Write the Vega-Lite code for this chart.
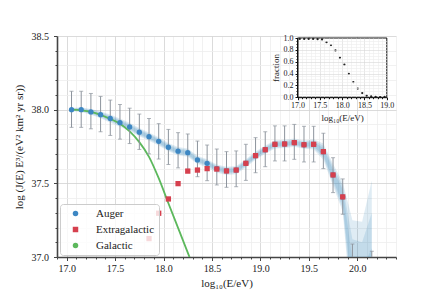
{
  "$schema": "https://vega.github.io/schema/vega-lite/v6.json",
  "width": 339,
  "height": 221,
  "autosize": {"type": "none"},
  "padding": {"left": 57, "top": 36, "right": 44, "bottom": 37},
  "background": "white",
  "config": {
    "view": {"stroke": null},
    "font": "Liberation Serif",
    "axis": {"labelFont": "Liberation Serif", "titleFont": "Liberation Serif", "labelColor": "#222", "titleColor": "#222", "titleFontWeight": "normal", "labelOverlap": false, "labelFlush": false, "labelBound": false}
  },
  "datasets": {
    "auger": [
      {"E": 17.05, "J": 38.000, "lo": 37.880, "hi": 38.125, "series": "Auger"},
      {"E": 17.15, "J": 38.000, "lo": 37.880, "hi": 38.125, "series": "Auger"},
      {"E": 17.25, "J": 37.985, "lo": 37.870, "hi": 38.110, "series": "Auger"},
      {"E": 17.35, "J": 37.966, "lo": 37.850, "hi": 38.090, "series": "Auger"},
      {"E": 17.45, "J": 37.940, "lo": 37.825, "hi": 38.065, "series": "Auger"},
      {"E": 17.55, "J": 37.912, "lo": 37.800, "hi": 38.035, "series": "Auger"},
      {"E": 17.65, "J": 37.883, "lo": 37.770, "hi": 38.010, "series": "Auger"},
      {"E": 17.75, "J": 37.847, "lo": 37.730, "hi": 37.970, "series": "Auger"},
      {"E": 17.85, "J": 37.817, "lo": 37.700, "hi": 37.940, "series": "Auger"},
      {"E": 17.95, "J": 37.785, "lo": 37.665, "hi": 37.905, "series": "Auger"},
      {"E": 18.05, "J": 37.745, "lo": 37.628, "hi": 37.866, "series": "Auger"},
      {"E": 18.15, "J": 37.718, "lo": 37.605, "hi": 37.844, "series": "Auger"},
      {"E": 18.25, "J": 37.708, "lo": 37.595, "hi": 37.835, "series": "Auger"},
      {"E": 18.35, "J": 37.659, "lo": 37.545, "hi": 37.787, "series": "Auger"},
      {"E": 18.45, "J": 37.636, "lo": 37.518, "hi": 37.760, "series": "Auger"},
      {"E": 18.55, "J": 37.600, "lo": 37.489, "hi": 37.733, "series": "Auger"},
      {"E": 18.65, "J": 37.585, "lo": 37.473, "hi": 37.715, "series": "Auger"},
      {"E": 18.75, "J": 37.590, "lo": 37.477, "hi": 37.720, "series": "Auger"},
      {"E": 18.85, "J": 37.636, "lo": 37.520, "hi": 37.765, "series": "Auger"},
      {"E": 18.95, "J": 37.688, "lo": 37.572, "hi": 37.810, "series": "Auger"},
      {"E": 19.05, "J": 37.728, "lo": 37.613, "hi": 37.850, "series": "Auger"},
      {"E": 19.15, "J": 37.765, "lo": 37.652, "hi": 37.890, "series": "Auger"},
      {"E": 19.25, "J": 37.767, "lo": 37.652, "hi": 37.890, "series": "Auger"},
      {"E": 19.35, "J": 37.776, "lo": 37.663, "hi": 37.900, "series": "Auger"},
      {"E": 19.45, "J": 37.762, "lo": 37.645, "hi": 37.887, "series": "Auger"},
      {"E": 19.55, "J": 37.765, "lo": 37.645, "hi": 37.887, "series": "Auger"},
      {"E": 19.65, "J": 37.715, "lo": 37.600, "hi": 37.840, "series": "Auger"},
      {"E": 19.75, "J": 37.557, "lo": 37.437, "hi": 37.674, "series": "Auger"},
      {"E": 19.85, "J": 37.408, "lo": 37.290, "hi": 37.530, "series": "Auger"},
      {"E": 19.95, "J": 36.970, "lo": 36.850, "hi": 37.088, "series": "Auger"},
      {"E": 20.15, "J": 36.920, "lo": 36.800, "hi": 37.039, "series": "Auger"}
    ],
    "extragal": [
      {"E": 17.85, "J": 37.125, "series": "Extragalactic"},
      {"E": 17.95, "J": 37.297, "series": "Extragalactic"},
      {"E": 18.05, "J": 37.394, "series": "Extragalactic"},
      {"E": 18.15, "J": 37.498, "series": "Extragalactic"},
      {"E": 18.25, "J": 37.583, "series": "Extragalactic"},
      {"E": 18.35, "J": 37.590, "series": "Extragalactic"},
      {"E": 18.45, "J": 37.600, "series": "Extragalactic"},
      {"E": 18.55, "J": 37.597, "series": "Extragalactic"},
      {"E": 18.65, "J": 37.584, "series": "Extragalactic"},
      {"E": 18.75, "J": 37.590, "series": "Extragalactic"},
      {"E": 18.85, "J": 37.636, "series": "Extragalactic"},
      {"E": 18.95, "J": 37.688, "series": "Extragalactic"},
      {"E": 19.05, "J": 37.728, "series": "Extragalactic"},
      {"E": 19.15, "J": 37.765, "series": "Extragalactic"},
      {"E": 19.25, "J": 37.767, "series": "Extragalactic"},
      {"E": 19.35, "J": 37.776, "series": "Extragalactic"},
      {"E": 19.45, "J": 37.762, "series": "Extragalactic"},
      {"E": 19.55, "J": 37.765, "series": "Extragalactic"},
      {"E": 19.65, "J": 37.715, "series": "Extragalactic"},
      {"E": 19.75, "J": 37.557, "series": "Extragalactic"},
      {"E": 19.85, "J": 37.408, "series": "Extragalactic"}
    ],
    "galactic": [
      {"E": 17.05, "J": 38.000},
      {"E": 17.15, "J": 37.995},
      {"E": 17.25, "J": 37.985},
      {"E": 17.35, "J": 37.965},
      {"E": 17.45, "J": 37.937},
      {"E": 17.55, "J": 37.905},
      {"E": 17.65, "J": 37.852},
      {"E": 17.75, "J": 37.780},
      {"E": 17.85, "J": 37.680},
      {"E": 17.95, "J": 37.535},
      {"E": 18.05, "J": 37.365},
      {"E": 18.15, "J": 37.198},
      {"E": 18.25, "J": 37.030},
      {"E": 18.35, "J": 36.860}
    ],
    "band": [
      {"E": 17.05, "lo1": 37.996, "hi1": 38.004, "lo2": 37.992, "hi2": 38.008, "lo3": 37.988, "hi3": 38.012},
      {"E": 17.15, "lo1": 37.994, "hi1": 38.006, "lo2": 37.989, "hi2": 38.011, "lo3": 37.984, "hi3": 38.016},
      {"E": 17.25, "lo1": 37.977, "hi1": 37.993, "lo2": 37.971, "hi2": 37.999, "lo3": 37.965, "hi3": 38.005},
      {"E": 17.35, "lo1": 37.956, "hi1": 37.976, "lo2": 37.949, "hi2": 37.983, "lo3": 37.942, "hi3": 37.990},
      {"E": 17.45, "lo1": 37.928, "hi1": 37.952, "lo2": 37.920, "hi2": 37.960, "lo3": 37.912, "hi3": 37.968},
      {"E": 17.55, "lo1": 37.900, "hi1": 37.924, "lo2": 37.892, "hi2": 37.932, "lo3": 37.884, "hi3": 37.940},
      {"E": 17.65, "lo1": 37.871, "hi1": 37.895, "lo2": 37.863, "hi2": 37.903, "lo3": 37.855, "hi3": 37.911},
      {"E": 17.75, "lo1": 37.835, "hi1": 37.859, "lo2": 37.827, "hi2": 37.867, "lo3": 37.819, "hi3": 37.875},
      {"E": 17.85, "lo1": 37.805, "hi1": 37.829, "lo2": 37.797, "hi2": 37.837, "lo3": 37.789, "hi3": 37.845},
      {"E": 17.95, "lo1": 37.773, "hi1": 37.797, "lo2": 37.765, "hi2": 37.805, "lo3": 37.757, "hi3": 37.813},
      {"E": 18.05, "lo1": 37.733, "hi1": 37.757, "lo2": 37.725, "hi2": 37.765, "lo3": 37.717, "hi3": 37.773},
      {"E": 18.15, "lo1": 37.706, "hi1": 37.730, "lo2": 37.698, "hi2": 37.738, "lo3": 37.690, "hi3": 37.746},
      {"E": 18.25, "lo1": 37.696, "hi1": 37.720, "lo2": 37.688, "hi2": 37.728, "lo3": 37.680, "hi3": 37.736},
      {"E": 18.35, "lo1": 37.647, "hi1": 37.671, "lo2": 37.639, "hi2": 37.679, "lo3": 37.631, "hi3": 37.687},
      {"E": 18.45, "lo1": 37.624, "hi1": 37.648, "lo2": 37.616, "hi2": 37.656, "lo3": 37.608, "hi3": 37.664},
      {"E": 18.55, "lo1": 37.588, "hi1": 37.612, "lo2": 37.580, "hi2": 37.620, "lo3": 37.572, "hi3": 37.628},
      {"E": 18.65, "lo1": 37.573, "hi1": 37.597, "lo2": 37.565, "hi2": 37.605, "lo3": 37.557, "hi3": 37.613},
      {"E": 18.75, "lo1": 37.578, "hi1": 37.602, "lo2": 37.570, "hi2": 37.610, "lo3": 37.562, "hi3": 37.618},
      {"E": 18.85, "lo1": 37.624, "hi1": 37.648, "lo2": 37.616, "hi2": 37.656, "lo3": 37.608, "hi3": 37.664},
      {"E": 18.95, "lo1": 37.676, "hi1": 37.700, "lo2": 37.668, "hi2": 37.708, "lo3": 37.660, "hi3": 37.716},
      {"E": 19.05, "lo1": 37.716, "hi1": 37.740, "lo2": 37.708, "hi2": 37.748, "lo3": 37.700, "hi3": 37.756},
      {"E": 19.15, "lo1": 37.753, "hi1": 37.777, "lo2": 37.745, "hi2": 37.785, "lo3": 37.737, "hi3": 37.793},
      {"E": 19.25, "lo1": 37.755, "hi1": 37.779, "lo2": 37.747, "hi2": 37.787, "lo3": 37.739, "hi3": 37.795},
      {"E": 19.35, "lo1": 37.764, "hi1": 37.788, "lo2": 37.756, "hi2": 37.796, "lo3": 37.748, "hi3": 37.804},
      {"E": 19.45, "lo1": 37.750, "hi1": 37.774, "lo2": 37.742, "hi2": 37.782, "lo3": 37.734, "hi3": 37.790},
      {"E": 19.55, "lo1": 37.750, "hi1": 37.780, "lo2": 37.740, "hi2": 37.790, "lo3": 37.730, "hi3": 37.800},
      {"E": 19.65, "lo1": 37.690, "hi1": 37.740, "lo2": 37.675, "hi2": 37.755, "lo3": 37.660, "hi3": 37.770},
      {"E": 19.75, "lo1": 37.522, "hi1": 37.592, "lo2": 37.502, "hi2": 37.612, "lo3": 37.482, "hi3": 37.632},
      {"E": 19.85, "lo1": 37.358, "hi1": 37.458, "lo2": 37.333, "hi2": 37.483, "lo3": 37.308, "hi3": 37.508},
      {"E": 19.95, "lo1": 36.750, "hi1": 36.980, "lo2": 36.650, "hi2": 37.120, "lo3": 36.550, "hi3": 37.250},
      {"E": 20.05, "lo1": 36.750, "hi1": 36.920, "lo2": 36.650, "hi2": 37.100, "lo3": 36.550, "hi3": 37.240},
      {"E": 20.15, "lo1": 36.750, "hi1": 37.060, "lo2": 36.650, "hi2": 37.300, "lo3": 36.550, "hi3": 37.520}
    ],
    "fraction": [
      {"E": 17.05, "f": 0.985},
      {"E": 17.15, "f": 0.985},
      {"E": 17.25, "f": 0.985},
      {"E": 17.35, "f": 0.985},
      {"E": 17.45, "f": 0.980},
      {"E": 17.55, "f": 0.975},
      {"E": 17.65, "f": 0.930},
      {"E": 17.75, "f": 0.880},
      {"E": 17.85, "f": 0.790},
      {"E": 17.95, "f": 0.670},
      {"E": 18.05, "f": 0.550},
      {"E": 18.15, "f": 0.395},
      {"E": 18.25, "f": 0.255},
      {"E": 18.35, "f": 0.145},
      {"E": 18.45, "f": 0.070},
      {"E": 18.55, "f": 0.028},
      {"E": 18.65, "f": 0.012},
      {"E": 18.75, "f": 0.005},
      {"E": 18.85, "f": 0.003},
      {"E": 18.95, "f": 0.005}
    ]
  },
  "layer": [
    {
      "data": {"name": "band"},
      "mark": {"type": "area", "color": "#1f77b4", "opacity": 0.14, "clip": true},
      "encoding": {
        "x": {"field": "E", "type": "quantitative", "scale": {"domain": [16.9, 20.4], "nice": false, "zero": false},
          "axis": {
            "orient": "bottom",
            "values": [16.9,17,17.1,17.2,17.3,17.4,17.5,17.6,17.7,17.8,17.9,18,18.1,18.2,18.3,18.4,18.5,18.6,18.7,18.8,18.9,19,19.1,19.2,19.3,19.4,19.5,19.6,19.7,19.8,19.9,20,20.1,20.2,20.3,20.4],
            "labelExpr": "abs(round(datum.value*10)) % 5 === 0 ? format(datum.value, '.1f') : ''",
            "labelFontSize": 10, "labelPadding": 2.5,
            "tickSize": {"condition": {"test": "abs(round(datum.value*10)) % 5 === 0", "value": 3.5}, "value": 2},
            "tickColor": "#444", "tickWidth": 1,
            "domainColor": "#444", "domainWidth": 1.6,
            "grid": true,
            "gridColor": {"condition": {"test": "abs(round(datum.value*10)) % 5 === 0", "value": "#d2d2d2"}, "value": "#ededed"},
            "gridWidth": 0.8,
            "title": "log₁₀(E/eV)", "titleFontSize": 11, "titlePadding": 4
          }},
        "y": {"field": "lo3", "type": "quantitative", "scale": {"domain": [37, 38.5], "nice": false, "zero": false},
          "axis": {
            "orient": "left",
            "values": [37,37.1,37.2,37.3,37.4,37.5,37.6,37.7,37.8,37.9,38,38.1,38.2,38.3,38.4,38.5],
            "labelExpr": "abs(round(datum.value*10)) % 5 === 0 ? format(datum.value, '.1f') : ''",
            "labelFontSize": 10, "labelPadding": 5,
            "tickSize": {"condition": {"test": "abs(round(datum.value*10)) % 5 === 0", "value": 3.5}, "value": 2},
            "tickColor": "#444", "tickWidth": 1,
            "domainColor": "#444", "domainWidth": 1.6,
            "grid": true,
            "gridColor": {"condition": {"test": "abs(round(datum.value*10)) % 5 === 0", "value": "#d2d2d2"}, "value": "#ededed"},
            "gridWidth": 0.8,
            "title": "log (J(E) E³/(eV² km² yr sr))", "titleFontSize": 11, "titlePadding": 7
          }},
        "y2": {"field": "hi3"}
      }
    },
    {
      "data": {"name": "band"},
      "mark": {"type": "area", "color": "#1f77b4", "opacity": 0.14, "clip": true},
      "encoding": {
        "x": {"field": "E", "type": "quantitative", "scale": {"domain": [16.9, 20.4], "nice": false, "zero": false}, "axis": null},
        "y": {"field": "lo2", "type": "quantitative", "scale": {"domain": [37, 38.5], "nice": false, "zero": false}, "axis": null},
        "y2": {"field": "hi2"}
      }
    },
    {
      "data": {"name": "band"},
      "mark": {"type": "area", "color": "#1f77b4", "opacity": 0.14, "clip": true},
      "encoding": {
        "x": {"field": "E", "type": "quantitative", "scale": {"domain": [16.9, 20.4], "nice": false, "zero": false}, "axis": null},
        "y": {"field": "lo1", "type": "quantitative", "scale": {"domain": [37, 38.5], "nice": false, "zero": false}, "axis": null},
        "y2": {"field": "hi1"}
      }
    },
    {
      "data": {"name": "galactic"},
      "mark": {"type": "line", "color": "#5cb85c", "strokeWidth": 1.8, "interpolate": "monotone", "clip": true},
      "encoding": {
        "x": {"field": "E", "type": "quantitative", "scale": {"domain": [16.9, 20.4], "nice": false, "zero": false}, "axis": null},
        "y": {"field": "J", "type": "quantitative", "scale": {"domain": [37, 38.5], "nice": false, "zero": false}, "axis": null}
      }
    },
    {
      "data": {"name": "auger"},
      "mark": {"type": "rule", "color": "#8d949d", "strokeWidth": 1, "clip": true},
      "encoding": {
        "x": {"field": "E", "type": "quantitative", "scale": {"domain": [16.9, 20.4], "nice": false, "zero": false}, "axis": null},
        "y": {"field": "lo", "type": "quantitative", "scale": {"domain": [37, 38.5], "nice": false, "zero": false}, "axis": null},
        "y2": {"field": "hi"}
      }
    },
    {
      "data": {"name": "auger"},
      "mark": {"type": "tick", "orient": "horizontal", "color": "#8d949d", "size": 4, "thickness": 1, "clip": true},
      "encoding": {
        "x": {"field": "E", "type": "quantitative", "scale": {"domain": [16.9, 20.4], "nice": false, "zero": false}, "axis": null},
        "y": {"field": "lo", "type": "quantitative", "scale": {"domain": [37, 38.5], "nice": false, "zero": false}, "axis": null}
      }
    },
    {
      "data": {"name": "auger"},
      "mark": {"type": "tick", "orient": "horizontal", "color": "#8d949d", "size": 4, "thickness": 1, "clip": true},
      "encoding": {
        "x": {"field": "E", "type": "quantitative", "scale": {"domain": [16.9, 20.4], "nice": false, "zero": false}, "axis": null},
        "y": {"field": "hi", "type": "quantitative", "scale": {"domain": [37, 38.5], "nice": false, "zero": false}, "axis": null}
      }
    },
    {
      "data": {"name": "auger"},
      "mark": {"type": "point", "filled": true, "size": 28, "opacity": 1, "clip": true},
      "encoding": {
        "x": {"field": "E", "type": "quantitative", "scale": {"domain": [16.9, 20.4], "nice": false, "zero": false}, "axis": null},
        "y": {"field": "J", "type": "quantitative", "scale": {"domain": [37, 38.5], "nice": false, "zero": false}, "axis": null},
        "color": {"field": "series", "type": "nominal",
          "scale": {"domain": ["Auger", "Extragalactic", "Galactic"], "range": ["#3d87c3", "#d6404e", "#5cb85c"]},
          "legend": {"orient": "none", "legendX": 3, "legendY": 168, "title": null,
            "fillColor": "rgba(255,255,255,0.8)", "strokeColor": "#cccccc", "cornerRadius": 3,
            "padding": 4, "labelFont": "Liberation Serif", "labelFontSize": 11, "labelColor": "#222",
            "labelOffset": 15, "symbolSize": 30, "rowPadding": 4, "symbolOffset": 6, "symbolStrokeWidth": 0}},
        "shape": {"field": "series", "type": "nominal",
          "scale": {"domain": ["Auger", "Extragalactic", "Galactic"], "range": ["circle", "square", "circle"]}}
      }
    },
    {
      "data": {"name": "extragal"},
      "mark": {"type": "point", "filled": true, "size": 28, "opacity": 1, "clip": true},
      "encoding": {
        "x": {"field": "E", "type": "quantitative", "scale": {"domain": [16.9, 20.4], "nice": false, "zero": false}, "axis": null},
        "y": {"field": "J", "type": "quantitative", "scale": {"domain": [37, 38.5], "nice": false, "zero": false}, "axis": null},
        "color": {"field": "series", "type": "nominal",
          "scale": {"domain": ["Auger", "Extragalactic", "Galactic"], "range": ["#3d87c3", "#d6404e", "#5cb85c"]}},
        "shape": {"field": "series", "type": "nominal",
          "scale": {"domain": ["Auger", "Extragalactic", "Galactic"], "range": ["circle", "square", "circle"]}}
      }
    },
    {
      "data": {"values": [{}]},
      "mark": {"type": "rect", "fill": "white", "stroke": "#111", "strokeWidth": 1},
      "encoding": {
        "x": {"datum": 17, "type": "quantitative", "scale": {"domain": [17, 19], "range": [240.5, 329.8], "nice": false, "zero": false},
          "axis": {"orient": "top", "offset": -61.2, "values": [17.1,17.2,17.3,17.4,17.5,17.6,17.7,17.8,17.9,18,18.1,18.2,18.3,18.4,18.5,18.6,18.7,18.8,18.9],
            "grid": true, "labels": false, "ticks": false, "domain": false, "title": null, "zindex": 1,
            "gridColor": {"condition": {"test": "abs(round(datum.value*10)) % 5 === 0", "value": "#d6d6d6"}, "value": "#ededed"},
            "gridWidth": 0.6}},
        "x2": {"datum": 19},
        "y": {"datum": 0, "type": "quantitative", "scale": {"domain": [0, 1], "range": [61.2, 2], "nice": false, "zero": false},
          "axis": {"orient": "left", "offset": -240.5,
            "values": [0,0.05,0.1,0.15,0.2,0.25,0.3,0.35,0.4,0.45,0.5,0.55,0.6,0.65,0.7,0.75,0.8,0.85,0.9,0.95,1],
            "labelExpr": "round(datum.value*20) % 4 === 0 ? format(datum.value, '.1f') : ''",
            "labelFontSize": 8, "labelPadding": 2,
            "tickSize": {"condition": {"test": "round(datum.value*20) % 4 === 0", "value": 2.5}, "value": 1.5},
            "tickColor": "#111", "domainColor": "#111", "domainWidth": 1,
            "grid": true,
            "gridColor": {"condition": {"test": "round(datum.value*20) % 4 === 0", "value": "#d6d6d6"}, "value": "#ededed"},
            "gridOpacity": {"condition": {"test": "datum.value === 0 || datum.value === 1", "value": 0}, "value": 1},
            "gridWidth": 0.6,
            "title": "fraction", "titleFontSize": 9, "titlePadding": 3, "zindex": 1}},
        "y2": {"datum": 1}
      }
    },
    {
      "data": {"name": "fraction"},
      "mark": {"type": "circle", "color": "#222", "size": 5, "opacity": 1},
      "encoding": {
        "x": {"field": "E", "type": "quantitative", "scale": {"domain": [17, 19], "range": [240.5, 329.8], "nice": false, "zero": false},
          "axis": {"orient": "bottom", "offset": -159.8,
            "values": [17,17.1,17.2,17.3,17.4,17.5,17.6,17.7,17.8,17.9,18,18.1,18.2,18.3,18.4,18.5,18.6,18.7,18.8,18.9,19],
            "labelExpr": "abs(round(datum.value*10)) % 5 === 0 ? format(datum.value, '.1f') : ''",
            "labelFontSize": 8, "labelPadding": 1.5,
            "tickSize": {"condition": {"test": "abs(round(datum.value*10)) % 5 === 0", "value": 2.5}, "value": 1.5},
            "tickColor": "#111", "domainColor": "#111", "domainWidth": 1,
            "grid": false, "title": "log₁₀(E/eV)", "titleFontSize": 9, "titlePadding": 4, "zindex": 1}},
        "y": {"field": "f", "type": "quantitative", "scale": {"domain": [0, 1], "range": [61.2, 2], "nice": false, "zero": false}, "axis": null}
      }
    }
  ],
  "resolve": {"scale": {"x": "independent", "y": "independent"}}
}
